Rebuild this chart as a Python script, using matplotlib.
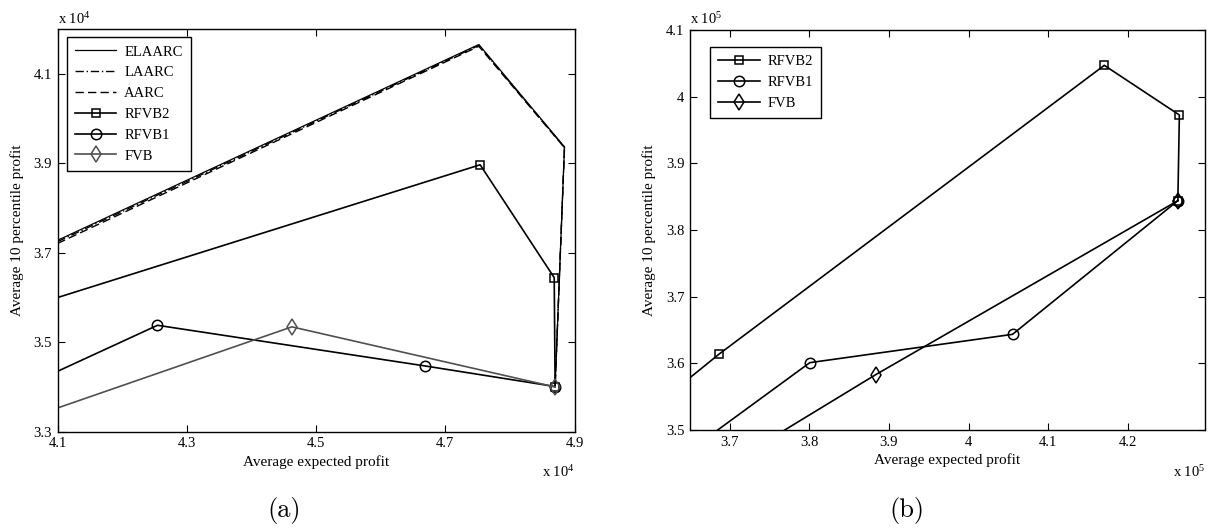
import matplotlib
matplotlib.use('Agg')
import matplotlib.pyplot as plt
from matplotlib.lines import Line2D
from matplotlib.ticker import FixedLocator, FixedFormatter

plt.rcParams['font.family'] = ['Liberation Serif', 'DejaVu Serif']
plt.rcParams['mathtext.fontset'] = 'custom'
plt.rcParams['mathtext.rm'] = 'Liberation Serif'
plt.rcParams['mathtext.it'] = 'Liberation Serif:italic'

# ---------------- Panel (a): values in units of 1e4 ----------------
a_front_x = [4.100, 4.752, 4.8845, 4.870]
a_elaarc_y = [3.728, 4.166, 3.937, 3.401]
a_laarc_y = [3.725, 4.164, 3.936, 3.401]
a_aarc_y = [3.721, 4.162, 3.935, 3.401]
a_rfvb2_x = [4.100, 4.754, 4.8686, 4.870]
a_rfvb2_y = [3.600, 3.897, 3.6446, 3.401]
a_rfvb1_x = [4.100, 4.2547, 4.669, 4.870]
a_rfvb1_y = [3.435, 3.538, 3.447, 3.401]
a_fvb_x = [4.100, 4.4627, 4.870]
a_fvb_y = [3.353, 3.5345, 3.400]
a_xticks = [4.1, 4.3, 4.5, 4.7, 4.9]
a_xticklabels = ['4.1', '4.3', '4.5', '4.7', '4.9']
a_yticks = [3.3, 3.5, 3.7, 3.9, 4.1]
a_yticklabels = ['3.3', '3.5', '3.7', '3.9', '4.1']

# ---------------- Panel (b): values in units of 1e5 ----------------
b_rfvb2_x = [3.650, 3.6867, 4.1705, 4.2648, 4.2629]
b_rfvb2_y = [3.5785, 3.614, 4.047, 3.9725, 3.844]
b_rfvb1_x = [3.6848, 3.8005, 4.0552, 4.2629]
b_rfvb1_y = [3.500, 3.601, 3.6435, 3.844]
b_fvb_x = [3.769, 3.8833, 4.2629]
b_fvb_y = [3.500, 3.583, 3.844]
b_xticks = [3.7, 3.8, 3.9, 4.0, 4.1, 4.2]
b_xticklabels = ['3.7', '3.8', '3.9', '4', '4.1', '4.2']
b_yticks = [3.5, 3.6, 3.7, 3.8, 3.9, 4.0, 4.1]
b_yticklabels = ['3.5', '3.6', '3.7', '3.8', '3.9', '4', '4.1']

W, H = 1213, 528
fig = plt.figure(figsize=(W / 100, H / 100), dpi=100)

def px_axes(l, t, r, b):
    return fig.add_axes([l / W, 1 - b / H, (r - l) / W, (b - t) / H])

axA = px_axes(57.5, 29.3, 574.5, 431.7)
axB = px_axes(690, 30, 1205, 430)

GRAY = '#505050'
TFS = 10.5   # tick labels
LFS = 11     # axis labels
LEGFS = 10.5

def style(ax, xlim, ylim, xt, xtl, yt, ytl):
    ax.set_xlim(*xlim)
    ax.set_ylim(*ylim)
    ax.xaxis.set_major_locator(FixedLocator(xt))
    ax.xaxis.set_major_formatter(FixedFormatter(xtl))
    ax.yaxis.set_major_locator(FixedLocator(yt))
    ax.yaxis.set_major_formatter(FixedFormatter(ytl))
    ax.tick_params(direction='in', length=5, width=0.8, top=True, right=True,
                   labelsize=TFS, pad=4)
    for s in ax.spines.values():
        s.set_linewidth(1.0)
    ax.set_xlabel('Average expected profit', fontsize=LFS, labelpad=3.5)
    ax.set_ylabel('Average 10 percentile profit', fontsize=LFS, labelpad=7)

def series(ax, x, y, marker, color='black', lw=1.2, ms=6, ls='-'):
    ax.plot(x, y, color=color, lw=lw, ls=ls)
    if marker:
        ax.plot(x[1:], y[1:], ls='none', marker=marker, ms=ms, mfc='none',
                mec=color, mew=1.1)

SQ_MS, CI_MS, DI_MS = 6, 7.5, 8.5
LEG_KW = dict(loc='upper left', borderaxespad=0, fontsize=LEGFS, fancybox=False,
              edgecolor='black', framealpha=1, handlelength=2.85,
              handletextpad=0.55, labelspacing=0.52, borderpad=0.55)

# ---- Panel (a) ----
series(axA, a_front_x, a_elaarc_y, None, lw=0.9)
series(axA, a_front_x, a_laarc_y, None, lw=1.0, ls=(0, (6, 2, 1, 2)))
series(axA, a_front_x, a_aarc_y, None, lw=1.0, ls=(0, (6, 3)))
series(axA, a_rfvb2_x, a_rfvb2_y, 's', ms=SQ_MS)
series(axA, a_rfvb1_x, a_rfvb1_y, 'o', ms=CI_MS)
series(axA, a_fvb_x, a_fvb_y, 'd', color=GRAY, ms=DI_MS)
style(axA, (4.1, 4.9), (3.3, 4.2), a_xticks, a_xticklabels, a_yticks, a_yticklabels)

hA = [
    Line2D([], [], color='black', lw=0.9),
    Line2D([], [], color='black', lw=1.0, ls=(0, (6, 2, 1, 2))),
    Line2D([], [], color='black', lw=1.0, ls=(0, (6, 3))),
    Line2D([], [], color='black', lw=1.2, marker='s', ms=SQ_MS, mfc='none', mew=1.1),
    Line2D([], [], color='black', lw=1.2, marker='o', ms=CI_MS, mfc='none', mew=1.1),
    Line2D([], [], color=GRAY, lw=1.2, marker='d', ms=DI_MS, mfc='none', mew=1.1),
]
legA = axA.legend(hA, ['ELAARC', 'LAARC', 'AARC', 'RFVB2', 'RFVB1', 'FVB'],
                  bbox_to_anchor=(0.0178, 0.980), **LEG_KW)
legA.get_frame().set_linewidth(1.0)

# ---- Panel (b) ----
series(axB, b_rfvb2_x, b_rfvb2_y, 's', ms=SQ_MS)
series(axB, b_rfvb1_x, b_rfvb1_y, 'o', ms=CI_MS)
series(axB, b_fvb_x, b_fvb_y, 'd', ms=DI_MS)
style(axB, (3.65, 4.297), (3.5, 4.1), b_xticks, b_xticklabels, b_yticks, b_yticklabels)

hB = [
    Line2D([], [], color='black', lw=1.2, marker='s', ms=SQ_MS, mfc='none', mew=1.1),
    Line2D([], [], color='black', lw=1.2, marker='o', ms=CI_MS, mfc='none', mew=1.1),
    Line2D([], [], color='black', lw=1.2, marker='d', ms=DI_MS, mfc='none', mew=1.1),
]
legB = axB.legend(hB, ['RFVB2', 'RFVB1', 'FVB'],
                  bbox_to_anchor=(0.0389, 0.958), **LEG_KW)
legB.get_frame().set_linewidth(1.0)

# ---- exponent labels ----
def fx(px):
    return px / W

def fy(py):
    return 1 - py / H

fig.text(fx(58), fy(19), r'x 10$^{4}$', fontsize=TFS, ha='left', va='center')
fig.text(fx(575), fy(472), r'x 10$^{4}$', fontsize=TFS, ha='right', va='center')
fig.text(fx(690), fy(19), r'x 10$^{5}$', fontsize=TFS, ha='left', va='center')
fig.text(fx(1205), fy(472), r'x 10$^{5}$', fontsize=TFS, ha='right', va='center')

# ---- panel captions ----
fig.text(fx(284), fy(511), '(a)', fontsize=19, family='cmr10', ha='center', va='center')
fig.text(fx(907), fy(511), '(b)', fontsize=19, family='cmr10', ha='center', va='center')

fig.savefig('out.png', dpi=100)
